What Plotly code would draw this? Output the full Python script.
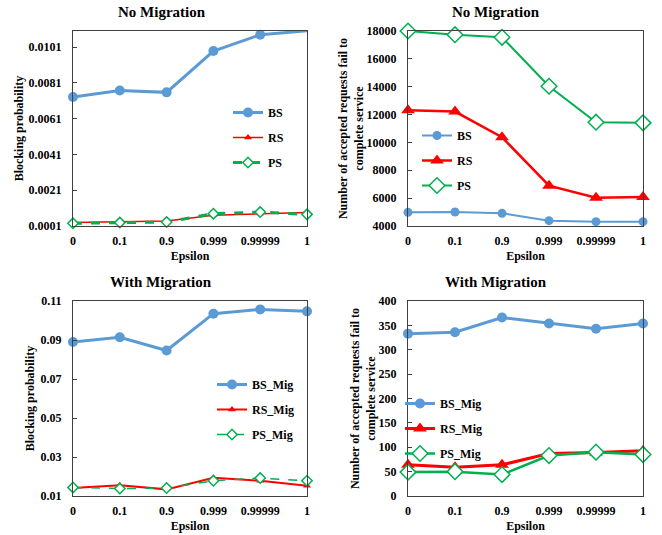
import plotly.graph_objects as go

# ---------------- data ----------------
epsilon_labels = ['0', '0.1', '0.9', '0.999', '0.99999', '1']
x_pos = list(range(len(epsilon_labels)))

# No Migration - blocking probability
bs_block = [0.00731, 0.00767, 0.00757, 0.00988, 0.01079, 0.01101]
rs_block = [0.00030, 0.00036, 0.00038, 0.00070, 0.00080, 0.00086]
ps_block = [0.00025, 0.00029, 0.00032, 0.00079, 0.00088, 0.00075]

# No Migration - accepted requests failing to complete
bs_fail = [4979, 5003, 4908, 4382, 4311, 4311]
rs_fail = [12313, 12218, 10378, 6891, 6031, 6078]
ps_fail = [18000, 17737, 17546, 14033, 11453, 11406]

# With Migration - blocking probability
bs_mig_block = [0.0890, 0.0914, 0.0846, 0.1035, 0.1057, 0.1047]
rs_mig_block = [0.0141, 0.0155, 0.0134, 0.0194, 0.0178, 0.0153]
ps_mig_block = [0.0144, 0.0138, 0.0141, 0.0178, 0.0192, 0.0178]

# With Migration - accepted requests failing to complete
bs_mig_fail = [333, 336, 366, 354, 343, 354]
rs_mig_fail = [64, 59, 64, 87, 89, 93]
ps_mig_fail = [49, 50, 44, 83, 90, 85]

# tick labels
block_ticks = [0.0001, 0.0021, 0.0041, 0.0061, 0.0081, 0.0101]
block_ticktext = ['0.0001', '0.0021', '0.0041', '0.0061', '0.0081', '0.0101']
fail_ticks = [4000, 6000, 8000, 10000, 12000, 14000, 16000, 18000]
mig_block_ticks = [0.01, 0.03, 0.05, 0.07, 0.09, 0.11]
mig_block_ticktext = ['0.01', '0.03', '0.05', '0.07', '0.09', '0.11']
mig_fail_ticks = [0, 50, 100, 150, 200, 250, 300, 350, 400]

# ---------------- styling ----------------
BLUE = '#5B9BD5'
RED = '#FF0000'
GREEN = '#00B050'
FONT = 'Liberation Serif, Times New Roman, serif'
AXC = '#404040'

fig = go.Figure()


def add(x, y, name, xa, ya, legend, color, width, symbol, size, dash='solid',
        mfill=None):
    fig.add_trace(go.Scatter(
        x=x, y=y, name=name, mode='lines+markers', xaxis=xa, yaxis=ya,
        legend=legend, legendgroup=legend + name, cliponaxis=False,
        line=dict(color=color, width=width, dash=dash),
        marker=dict(symbol=symbol, size=size,
                    color=mfill if mfill else color,
                    line=dict(color=color, width=1.5 if mfill else 0)),
    ))


# panel 1
add(x_pos, bs_block, 'BS', 'x', 'y', 'legend', BLUE, 3, 'circle', 10)
add(x_pos, rs_block, 'RS', 'x', 'y', 'legend', RED, 1.5, 'triangle-up', 7)
add(x_pos, ps_block, 'PS', 'x', 'y', 'legend', GREEN, 3, 'diamond', 8,
    dash='dash', mfill='white')
# panel 2
add(x_pos, bs_fail, 'BS', 'x2', 'y2', 'legend2', BLUE, 2, 'circle', 9)
add(x_pos, rs_fail, 'RS', 'x2', 'y2', 'legend2', RED, 2.5, 'triangle-up', 12)
add(x_pos, ps_fail, 'PS', 'x2', 'y2', 'legend2', GREEN, 2, 'diamond', 12,
    mfill='white')
# panel 3
add(x_pos, bs_mig_block, 'BS_Mig', 'x3', 'y3', 'legend3', BLUE, 3, 'circle', 10)
add(x_pos, rs_mig_block, 'RS_Mig', 'x3', 'y3', 'legend3', RED, 2, 'triangle-up', 7)
add(x_pos, ps_mig_block, 'PS_Mig', 'x3', 'y3', 'legend3', GREEN, 1.5, 'diamond', 8,
    dash='dash', mfill='white')
# panel 4
add(x_pos, bs_mig_fail, 'BS_Mig', 'x4', 'y4', 'legend4', BLUE, 3, 'circle', 10)
add(x_pos, rs_mig_fail, 'RS_Mig', 'x4', 'y4', 'legend4', RED, 3, 'triangle-up', 12)
add(x_pos, ps_mig_fail, 'PS_Mig', 'x4', 'y4', 'legend4', GREEN, 2.5, 'diamond', 12,
    mfill='white')

W, H = 662, 535


def xd(l, r):
    return [l / W, r / W]


def yd(t, b):
    return [1 - b / H, 1 - t / H]


tickfont = dict(family=FONT, size=12, color='black', weight='bold')
titlefont = dict(family=FONT, size=12, color='black', weight='bold')


def xaxis(dom, anchor):
    return dict(domain=dom, anchor=anchor, range=[0, 5], tickvals=x_pos,
                ticktext=epsilon_labels, showline=True, linecolor=AXC,
                linewidth=1, mirror=True, ticks='', showgrid=False,
                zeroline=False, tickfont=tickfont, ticklabelstandoff=4,
                automargin=False,
                title=dict(text='Epsilon', font=titlefont, standoff=4))


def yaxis(dom, anchor, rng, tv, tt, title, standoff):
    return dict(domain=dom, anchor=anchor, range=rng, tickvals=tv, ticktext=tt,
                showline=True, linecolor=AXC, linewidth=1, mirror=True,
                ticks='inside', ticklen=4, tickcolor=AXC, showgrid=False,
                zeroline=False, tickfont=tickfont, ticklabelstandoff=8,
                automargin=False,
                title=dict(text=title, font=titlefont, standoff=standoff))


fail_title = 'Number of accepted requests fail to<br>complete service'

fig.update_layout(
    width=W, height=H,
    margin=dict(l=0, r=0, t=0, b=0, pad=0, autoexpand=False),
    paper_bgcolor='white', plot_bgcolor='white',
    font=dict(family=FONT, size=12, color='black'),
    xaxis=xaxis(xd(73, 307), 'y'),
    yaxis=yaxis(yd(31, 226), 'x', [0.0001, 0.011], block_ticks, block_ticktext,
                'Blocking probability', 2),
    xaxis2=xaxis(xd(408, 643), 'y2'),
    yaxis2=yaxis(yd(31, 226), 'x2', [4000, 18000], fail_ticks,
                 [str(v) for v in fail_ticks], fail_title, 0),
    xaxis3=xaxis(xd(73, 307), 'y3'),
    yaxis3=yaxis(yd(301, 496), 'x3', [0.01, 0.11], mig_block_ticks,
                 mig_block_ticktext, 'Blocking probability', 3),
    xaxis4=xaxis(xd(408, 643), 'y4'),
    yaxis4=yaxis(yd(301, 496), 'x4', [0, 400], mig_fail_ticks,
                 [str(v) for v in mig_fail_ticks], fail_title, 0),
)

legend_common = dict(font=dict(family=FONT, size=12, color='black', weight='bold'),
                     bgcolor='rgba(0,0,0,0)', traceorder='grouped',
                     tracegroupgap=6, xanchor='left', yanchor='top')
fig.update_layout(
    legend=dict(x=228 / W, y=1 - 98 / H, **legend_common),
    legend2=dict(x=417 / W, y=1 - 121 / H, **legend_common),
    legend3=dict(x=212 / W, y=1 - 370 / H, **legend_common),
    legend4=dict(x=400 / W, y=1 - 389 / H, **legend_common),
)

titles = [('No Migration', 162, 12), ('No Migration', 496, 12),
          ('With Migration', 161, 282), ('With Migration', 496, 282)]
for text, cx, cy in titles:
    fig.add_annotation(text=text, x=cx / W, y=1 - cy / H, xref='paper',
                       yref='paper', showarrow=False, xanchor='center',
                       yanchor='middle',
                       font=dict(family=FONT, size=15, color='black',
                                 weight='bold'))

fig.write_html('out.html', config={'displayModeBar': False},
               post_script="document.body.style.margin='0';")
